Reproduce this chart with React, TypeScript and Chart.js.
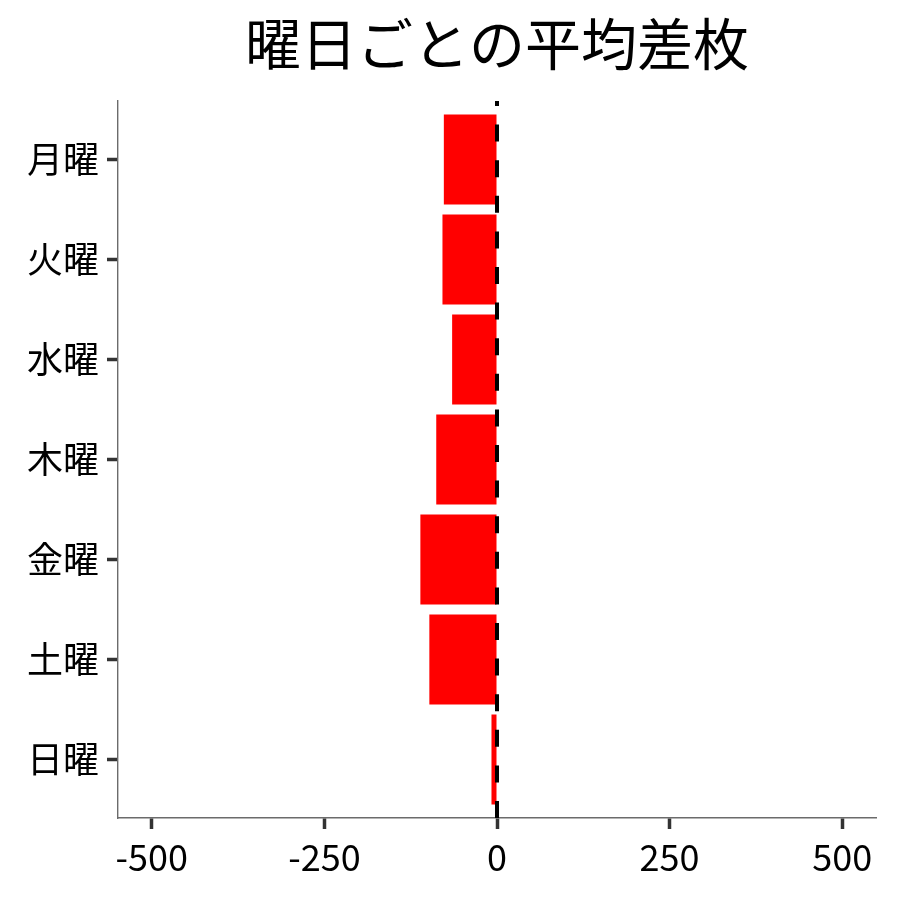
import { Chart, registerables } from "chart.js";
import { useEffect, useRef } from "react";

Chart.register(...registerables);

const days = ["月曜", "火曜", "水曜", "木曜", "金曜", "土曜", "日曜"];
const avgDiff = [-77, -79, -65, -88, -111, -98, -8];
const xTicks = [-500, -250, 0, 250, 500];
const refLine = 0;

const FONT = "'Noto Sans CJK JP', 'Noto Sans', sans-serif";

function DiffChart() {
  const chartRef = useRef<HTMLCanvasElement | null>(null);

  useEffect(() => {
    const ctx = chartRef.current?.getContext("2d");
    if (!ctx) return;

    // dashed vertical line at zero
    const zeroLine = {
      id: "zeroLine",
      afterDatasetsDraw(chart: any) {
        const { ctx, chartArea, scales } = chart;
        const x = scales.x.getPixelForValue(refLine);
        ctx.save();
        ctx.strokeStyle = "#000000";
        ctx.lineWidth = 4;
        ctx.setLineDash([17, 18.6]);
        ctx.beginPath();
        ctx.moveTo(x, chartArea.bottom);
        ctx.lineTo(x, chartArea.top);
        ctx.stroke();
        ctx.restore();
      },
    };

    const axisGrid = {
      display: true,
      offset: false,
      drawOnChartArea: false,
      drawTicks: true,
      tickLength: 11,
      tickWidth: 3.5,
      tickColor: "#333333",
      color: "#333333",
    };

    const chart = new Chart(ctx, {
      type: "bar",
      data: {
        datasets: [
          {
            label: "平均差枚",
            data: avgDiff.map((v, i) => ({ x: v, y: i })),
            backgroundColor: "#ff0000",
            borderWidth: 0,
            barPercentage: 0.9,
            categoryPercentage: 1,
          },
        ],
      },
      options: {
        indexAxis: "y",
        animation: false,
        responsive: true,
        maintainAspectRatio: false,
        layout: { padding: { top: 0, right: 24, bottom: 0, left: 0 } },
        plugins: {
          legend: { display: false },
          tooltip: { enabled: false },
          title: {
            display: true,
            text: "曜日ごとの平均差枚",
            fullSize: false,
            color: "#000000",
            font: { family: FONT, size: 56, weight: "normal", lineHeight: 1.2 },
            padding: { top: 10, bottom: 23.8 },
          },
        },
        scales: {
          x: {
            type: "linear",
            offset: false,
            min: -549,
            max: 549,
            afterBuildTicks: (scale: any) => {
              scale.ticks = xTicks.map((v) => ({ value: v }));
            },
            afterFit: (scale: any) => {
              scale.height = 82;
            },
            grid: axisGrid,
            border: { display: true, color: "#6b6b6b", width: 1.4 },
            ticks: {
              color: "#000000",
              padding: 7,
              maxRotation: 0,
              font: { family: FONT, size: 36 },
              callback: (v: any) => String(v),
            },
          },
          y: {
            type: "linear",
            offset: false,
            reverse: true,
            min: -0.585,
            max: 6.585,
            afterBuildTicks: (scale: any) => {
              scale.ticks = days.map((_, i) => ({ value: i }));
            },
            afterFit: (scale: any) => {
              scale.width = 118;
            },
            grid: axisGrid,
            border: { display: true, color: "#6b6b6b", width: 1.4 },
            ticks: {
              color: "#000000",
              padding: 8,
              font: { family: FONT, size: 36 },
              callback: (v: any) => days[v] ?? "",
            },
          },
        },
      },
      plugins: [zeroLine],
    });

    return () => chart.destroy();
  }, []);

  return (
    <div style={{ position: "absolute", left: 0, top: 0, width: 900, height: 900, background: "#ffffff" }}>
      <canvas ref={chartRef}></canvas>
    </div>
  );
}

export default function App() {
  return <DiffChart />;
}
